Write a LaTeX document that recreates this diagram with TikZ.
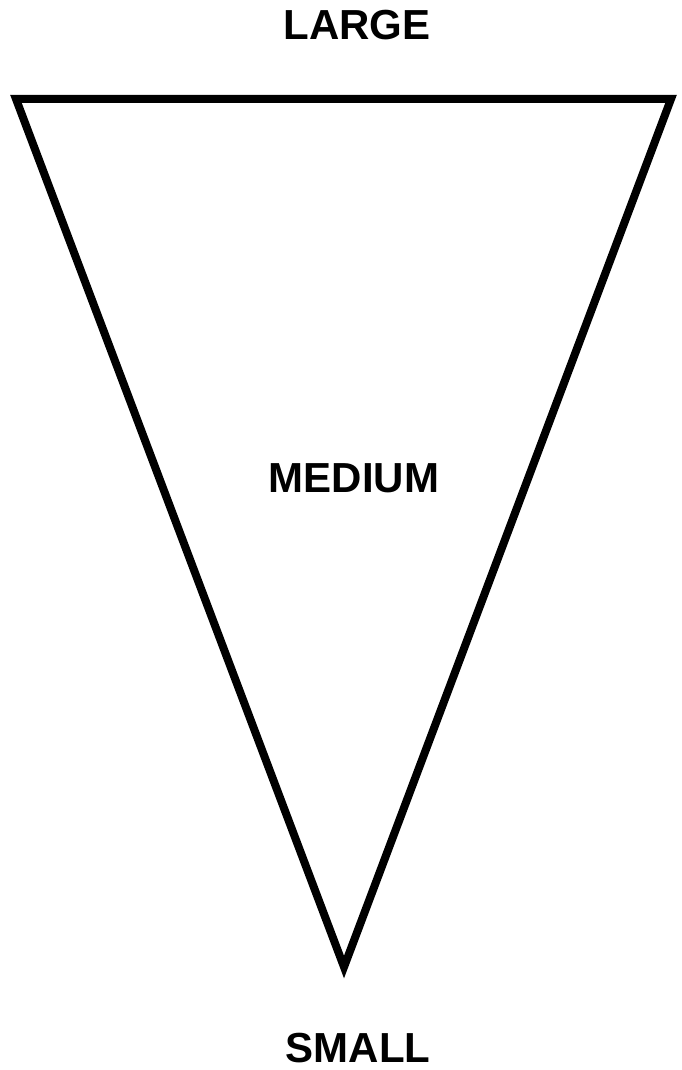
\documentclass[tikz,border=0pt]{standalone}
\usepackage{fontspec}
\setmainfont{Liberation Sans}
\usetikzlibrary{positioning}

\begin{document}
\begin{tikzpicture}[x=1pt,y=-1pt,lb/.style={font=\fontsize{42}{46}\selectfont\bfseries,inner sep=0pt},edge/.style={line width=8pt,line join=miter}]
\useasboundingbox (0,0) rectangle (681,1070);
% funnel corners
\coordinate (tl) at (16,99);
\coordinate (tr) at (671,99);
\coordinate (bt) at (344,967);
\draw[edge] (tl) -- (tr) -- (bt) -- cycle;
\node[lb] (large) at (357,25) {LARGE};
\node[lb] (medium) at (354,478) {MEDIUM};
\node[lb] (small) at (358,1048) {SMALL};
\end{tikzpicture}
\end{document}
